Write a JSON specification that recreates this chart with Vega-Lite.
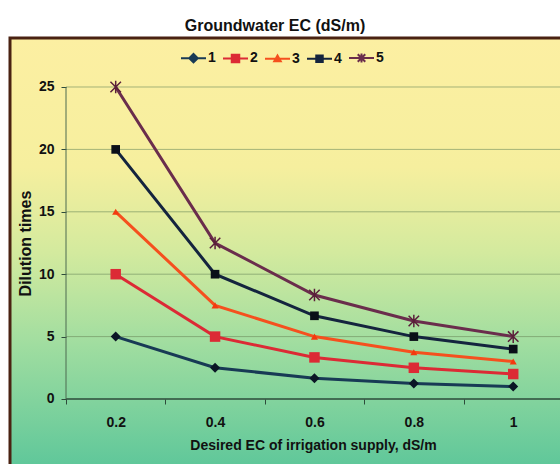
{
  "$schema": "https://vega.github.io/schema/vega-lite/v6.json",
  "width": 554,
  "height": 430,
  "autosize": "none",
  "padding": {"left": 10, "top": 38, "right": -4, "bottom": -4},
  "background": "#ffffff",
  "title": {"text": "Groundwater EC (dS/m)", "font": "Liberation Sans", "fontSize": 16, "fontWeight": "bold", "color": "#111111", "anchor": "middle", "dx": -12, "offset": 4},
  "view": {
    "fill": {"gradient": "linear", "x1": 0, "y1": 0, "x2": 0, "y2": 1, "stops": [
      {"offset": 0, "color": "#fcefa2"},
      {"offset": 0.3, "color": "#f6ef9e"},
      {"offset": 0.5, "color": "#d3ea9e"},
      {"offset": 0.7, "color": "#a3dea0"},
      {"offset": 1, "color": "#5ec79a"}
    ]},
    "stroke": "#4a2212",
    "strokeWidth": 3
  },
  "datasets": {
    "ec": [
      {"s": "1", "x": 0.2, "y": 5}, {"s": "1", "x": 0.4, "y": 2.5}, {"s": "1", "x": 0.6, "y": 1.667}, {"s": "1", "x": 0.8, "y": 1.25}, {"s": "1", "x": 1.0, "y": 1},
      {"s": "2", "x": 0.2, "y": 10}, {"s": "2", "x": 0.4, "y": 5}, {"s": "2", "x": 0.6, "y": 3.333}, {"s": "2", "x": 0.8, "y": 2.5}, {"s": "2", "x": 1.0, "y": 2},
      {"s": "3", "x": 0.2, "y": 15}, {"s": "3", "x": 0.4, "y": 7.5}, {"s": "3", "x": 0.6, "y": 5}, {"s": "3", "x": 0.8, "y": 3.75}, {"s": "3", "x": 1.0, "y": 3},
      {"s": "4", "x": 0.2, "y": 20}, {"s": "4", "x": 0.4, "y": 10}, {"s": "4", "x": 0.6, "y": 6.667}, {"s": "4", "x": 0.8, "y": 5}, {"s": "4", "x": 1.0, "y": 4},
      {"s": "5", "x": 0.2, "y": 25}, {"s": "5", "x": 0.4, "y": 12.5}, {"s": "5", "x": 0.6, "y": 8.333}, {"s": "5", "x": 0.8, "y": 6.25}, {"s": "5", "x": 1.0, "y": 5}
    ],
    "grid": [{"v": 5}, {"v": 10}, {"v": 15}, {"v": 20}, {"v": 25}]
  },
  "data": {"name": "ec"},
  "layer": [
    {
      "data": {"name": "grid"},
      "mark": {"type": "rule", "color": "#6d8a5c", "strokeWidth": 1, "opacity": 0.6},
      "encoding": {
        "y": {"field": "v", "type": "quantitative", "scale": {"domain": [-5.529, 28.926], "nice": false, "zero": false}},
        "x": {"datum": 0.1, "type": "quantitative", "scale": {"domain": [-0.0127, 1.1022], "nice": false, "zero": false}},
        "x2": {"datum": 1.1022}
      }
    },
    {
      "data": {"values": [{"v": 0}]},
      "mark": {"type": "rule", "color": "#2d4a3a", "strokeWidth": 1.5},
      "encoding": {
        "y": {"field": "v", "type": "quantitative"},
        "x": {"datum": 0.1, "type": "quantitative"},
        "x2": {"datum": 1.1022}
      }
    },
    {
      "data": {"values": [{"v": 0}]},
      "mark": {"type": "rule", "color": "#4d6a50", "strokeWidth": 1},
      "encoding": {
        "x": {"datum": 0.1, "type": "quantitative"},
        "y": {"field": "v", "type": "quantitative"},
        "y2": {"datum": 25}
      }
    },
    {
      "mark": {"type": "point", "filled": true, "opacity": 0},
      "encoding": {
        "x": {"field": "x", "type": "quantitative"},
        "y": {"field": "y", "type": "quantitative"},
        "color": {"field": "s", "type": "nominal",
          "scale": {"domain": ["1", "2", "3", "4", "5"], "range": ["#183a55", "#dc2a35", "#f5501e", "#14243e", "#6a2d4c"]},
          "legend": {"title": null, "orient": "none", "legendX": 170, "legendY": 6.5, "direction": "horizontal", "columns": 5, "symbolSize": 625, "symbolStrokeWidth": 2, "symbolOpacity": 1, "labelFont": "Liberation Sans", "labelFontSize": 14, "labelFontWeight": "bold", "labelColor": "#111111", "labelOffset": 1, "columnPadding": 3, "padding": 0}},
        "stroke": {"field": "s", "type": "nominal",
          "scale": {"domain": ["1", "2", "3", "4", "5"], "range": ["#183a55", "#dc2a35", "#f5501e", "#14243e", "#6a2d4c"]},
          "legend": {"title": null, "orient": "none", "legendX": 170, "legendY": 6.5, "direction": "horizontal", "columns": 5, "symbolSize": 625, "symbolStrokeWidth": 2, "symbolOpacity": 1, "labelFont": "Liberation Sans", "labelFontSize": 14, "labelFontWeight": "bold", "labelColor": "#111111", "labelOffset": 1, "columnPadding": 3, "padding": 0}},
        "shape": {"field": "s", "type": "nominal",
          "scale": {"domain": ["1", "2", "3", "4", "5"], "range": [
            "M-1,0H1M0,-0.34L0.34,0L0,0.34L-0.34,0Z",
            "M-1,0H1M-0.3,-0.3H0.3V0.3H-0.3Z",
            "M-1,0H1M0,-0.26L0.26,0.2H-0.26Z",
            "M-1,0H1M-0.26,-0.26H0.26V0.26H-0.26Z",
            "M-1,0H1M-0.3,-0.3L0.3,0.3M-0.3,0.3L0.3,-0.3M0,-0.36V0.36"
          ]},
          "legend": {"title": null, "orient": "none", "legendX": 170, "legendY": 6.5, "direction": "horizontal", "columns": 5, "symbolSize": 625, "symbolStrokeWidth": 2, "symbolOpacity": 1, "labelFont": "Liberation Sans", "labelFontSize": 14, "labelFontWeight": "bold", "labelColor": "#111111", "labelOffset": 1, "columnPadding": 3, "padding": 0}}
      }
    },
    {
      "mark": {"type": "line", "strokeWidth": 3},
      "encoding": {
        "x": {"field": "x", "type": "quantitative",
          "axis": {"orient": "bottom", "offset": -69, "values": [0.2, 0.4, 0.6, 0.8, 1], "format": "~g", "tickOffset": -49.69, "labelOffset": 49.69, "domain": false, "grid": false, "tickSize": 5, "tickColor": "#2d4a3a", "tickWidth": 1, "labelFont": "Liberation Sans", "labelFontSize": 14, "labelFontWeight": "bold", "labelColor": "#111111", "labelPadding": 11,
            "title": "Desired EC of irrigation supply, dS/m", "titleFont": "Liberation Sans", "titleFontSize": 14, "titleFontWeight": "bold", "titleColor": "#111111", "titleX": 303, "titleY": 46, "titleBaseline": "middle", "titleAlign": "center"}},
        "y": {"field": "y", "type": "quantitative",
          "axis": {"orient": "left", "offset": -56, "values": [0, 5, 10, 15, 20, 25], "domain": false, "grid": false, "tickSize": 5, "tickColor": "#2d4a3a", "tickWidth": 1, "labelFont": "Liberation Sans", "labelFontSize": 14, "labelFontWeight": "bold", "labelColor": "#111111", "labelPadding": 7,
            "title": "Dilution times", "titleFont": "Liberation Sans", "titleFontSize": 16, "titleFontWeight": "bold", "titleColor": "#111111", "titleX": -41, "titleY": 205, "titleAngle": 270, "titleBaseline": "middle", "titleAlign": "center"}},
        "color": {"field": "s", "type": "nominal"}
      }
    },
    {
      "transform": [{"filter": {"field": "s", "equal": "1"}}],
      "mark": {"type": "point", "shape": "diamond", "size": 100, "filled": true, "color": "#0b1626", "opacity": 1},
      "encoding": {"x": {"field": "x", "type": "quantitative"}, "y": {"field": "y", "type": "quantitative"}}
    },
    {
      "transform": [{"filter": {"field": "s", "equal": "2"}}],
      "mark": {"type": "point", "shape": "square", "size": 110, "filled": true, "color": "#dc2a35", "opacity": 1},
      "encoding": {"x": {"field": "x", "type": "quantitative"}, "y": {"field": "y", "type": "quantitative"}}
    },
    {
      "transform": [{"filter": {"field": "s", "equal": "3"}}],
      "mark": {"type": "point", "shape": "triangle-up", "size": 50, "filled": true, "color": "#f23a10", "opacity": 1},
      "encoding": {"x": {"field": "x", "type": "quantitative"}, "y": {"field": "y", "type": "quantitative"}}
    },
    {
      "transform": [{"filter": {"field": "s", "equal": "4"}}],
      "mark": {"type": "point", "shape": "square", "size": 75, "filled": true, "color": "#0a0f18", "opacity": 1},
      "encoding": {"x": {"field": "x", "type": "quantitative"}, "y": {"field": "y", "type": "quantitative"}}
    },
    {
      "transform": [{"filter": {"field": "s", "equal": "5"}}],
      "mark": {"type": "point", "shape": "M-1,-1L1,1M-1,1L1,-1M0,-1.2V1.2", "size": 110, "filled": false, "color": "#5a1f3a", "strokeWidth": 1.5, "opacity": 1},
      "encoding": {"x": {"field": "x", "type": "quantitative"}, "y": {"field": "y", "type": "quantitative"}}
    }
  ],
  "config": {
    "font": "Liberation Sans"
  }
}
